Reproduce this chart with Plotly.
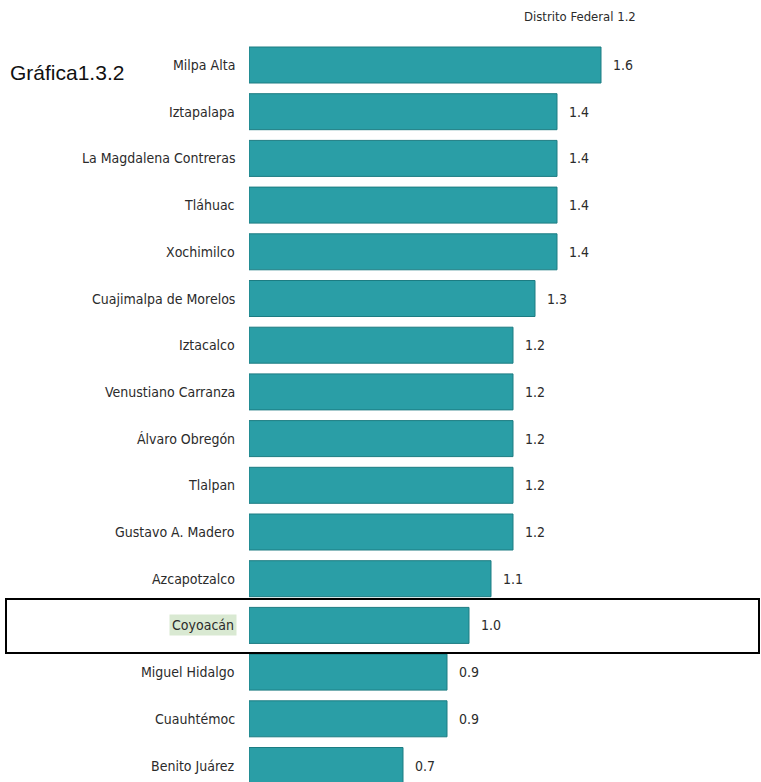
import plotly.graph_objects as go

categories = ["Milpa Alta", "Iztapalapa", "La Magdalena Contreras", "Tláhuac", "Xochimilco",
              "Cuajimalpa de Morelos", "Iztacalco", "Venustiano Carranza", "Álvaro Obregón",
              "Tlalpan", "Gustavo A. Madero", "Azcapotzalco", "Coyoacán", "Miguel Hidalgo",
              "Cuauhtémoc", "Benito Juárez"]
values = [1.6, 1.4, 1.4, 1.4, 1.4, 1.3, 1.2, 1.2, 1.2, 1.2, 1.2, 1.1, 1.0, 0.9, 0.9, 0.7]
reference_label = "Distrito Federal"
reference_value = 1.2
highlight = "Coyoacán"
chart_id = "Gráfica1.3.2"

W, H = 761, 782
L = 249
FONT = "Liberation Sans Narrow, DejaVu Sans Condensed, Arial Narrow, sans-serif"
TXT = "#2b2b2b"

idx = list(range(len(categories)))

fig = go.Figure()
fig.add_trace(go.Bar(
    x=values, y=idx, orientation="h",
    marker=dict(color="#2a9ea6", line=dict(color="#1c7c82", width=1)),
    hoverinfo="skip",
))

annotations = []
for i, (c, v) in enumerate(zip(categories, values)):
    a = dict(x=0, xref="paper", y=i, yref="y", text=c, showarrow=False,
             xanchor="right", yanchor="middle", xshift=-12,
             font=dict(family=FONT, size=14, color=TXT))
    if c == highlight:
        a["bgcolor"] = "#d9e9d2"
        a["borderpad"] = 2
    annotations.append(a)
    annotations.append(dict(x=v, xref="x", y=i, yref="y", text=f"{v:.1f}", showarrow=False,
                            xanchor="left", yanchor="middle", xshift=10,
                            font=dict(family=FONT, size=14, color=TXT)))

annotations.append(dict(x=(522 - L) / (W - L), xref="paper", y=1 - 16 / H, yref="paper",
                        text=f"{reference_label} {reference_value:.1f}", showarrow=False,
                        xanchor="left", yanchor="middle",
                        font=dict(family=FONT, size=13, color=TXT)))
annotations.append(dict(x=(8 - L) / (W - L), xref="paper", y=1 - 72 / H, yref="paper",
                        text=chart_id, showarrow=False, xanchor="left", yanchor="middle",
                        font=dict(family="Liberation Sans, Arial, sans-serif", size=21, color="#111111")))

hi = categories.index(highlight)
shapes = [dict(type="rect", xref="paper", yref="y",
               x0=(6 - L) / (W - L), x1=(759 - L) / (W - L),
               y0=hi - 0.565, y1=hi + 0.59,
               line=dict(color="black", width=2), fillcolor="rgba(0,0,0,0)")]

step = 46.7
top_center = 65
fig.update_layout(
    width=W, height=H,
    margin=dict(l=L, r=0, t=0, b=0),
    plot_bgcolor="white", paper_bgcolor="white",
    bargap=1 - 36 / step,
    showlegend=False,
    xaxis=dict(range=[0, (W - L) / 220], visible=False),
    yaxis=dict(range=[(H - top_center) / step, -top_center / step], visible=False),
    annotations=annotations,
    shapes=shapes,
)

fig.write_html("out.html")
